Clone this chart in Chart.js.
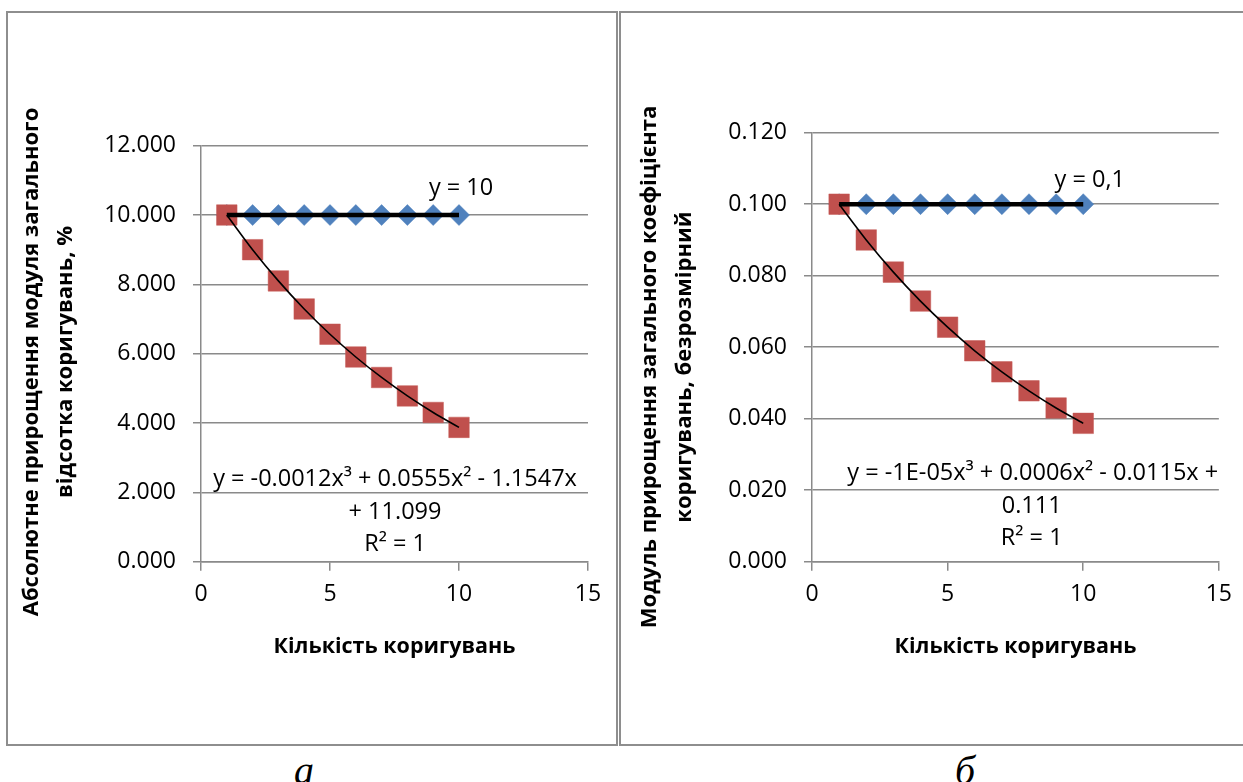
<!DOCTYPE html>
<html><head><meta charset="utf-8">
<script src="https://cdn.jsdelivr.net/npm/chart.js@4.4.0/dist/chart.umd.min.js"></script>
<style>
html,body{margin:0;padding:0;background:#fff}
body{width:1243px;height:782px;overflow:hidden;position:relative}
.frame{position:absolute;border:2px solid #8e8e8e;box-sizing:border-box}
#fa{left:6px;top:11px;width:612px;height:735px}
#fb{left:619px;top:11px;width:640px;height:735px}
canvas{position:absolute}
#ca{left:8px;top:13px}
#cb{left:621px;top:13px}
.cap{position:absolute;font-family:'Liberation Serif';font-style:italic;font-size:40px;line-height:40px;top:751px;transform:translateX(-50%);color:#000}
</style>
</head><body>
<div class="frame" id="fa"></div>
<div class="frame" id="fb"></div>
<canvas id="ca" width="608" height="730"></canvas>
<canvas id="cb" width="621" height="730"></canvas>
<div class="cap" style="left:304px">а</div>
<div class="cap" style="left:965px">б</div>
<script>
// ---- data ----
const xVals = [1, 2, 3, 4, 5, 6, 7, 8, 9, 10];
const blueA = [10, 10, 10, 10, 10, 10, 10, 10, 10, 10];
const redA = [10.000, 9.000, 8.100, 7.290, 6.561, 5.905, 5.314, 4.783, 4.305, 3.874];
const blueB = [0.1, 0.1, 0.1, 0.1, 0.1, 0.1, 0.1, 0.1, 0.1, 0.1];
const redB = [0.1000, 0.0900, 0.0810, 0.0729, 0.0656, 0.0590, 0.0531, 0.0478, 0.0430, 0.0387];
const xTicks = [0, 5, 10, 15];
const yTicksA = [0, 2, 4, 6, 8, 10, 12];
const yTicksB = [0, 0.02, 0.04, 0.06, 0.08, 0.10, 0.12];
const xTitle = 'Кількість коригувань';
const yTitleA = ['Абсолютне прирощення модуля загального', 'відсотка коригувань, %'];
const yTitleB = ['Модуль прирощення загального коефіцієнта', 'коригувань, безрозмірний'];
const trendLabelBlueA = 'y = 10';
const trendLabelRedA = ['y = -0.0012x³ + 0.0555x² - 1.1547x', '+ 11.099', 'R² = 1'];
const trendLabelBlueB = 'y = 0,1';
const trendLabelRedB = ['y = -1E-05x³ + 0.0006x² - 0.0115x +', '0.111', 'R² = 1'];

const GRID = '#8a8a8a';
const FONT = 'Open Sans';
const pts = (ys) => xVals.map((x, i) => ({x: x, y: ys[i]}));
const ends = (ys) => [{x: xVals[0], y: ys[0]}, {x: xVals[xVals.length - 1], y: ys[ys.length - 1]}];

const textPlugin = {
  id: 'texts',
  afterDatasetsDraw(chart, args, opts) {
    const ctx = chart.ctx;
    const xs = chart.scales.x, ys = chart.scales.y;
    ctx.save();
    ctx.fillStyle = '#000';
    ctx.textAlign = 'center';
    ctx.textBaseline = 'middle';
    ctx.font = '23.5px "' + FONT + '"';
    opts.labels.forEach(l => {
      ctx.fillText(l.text, xs.getPixelForValue(l.x), ys.getPixelForValue(l.y));
    });
    // rotated y title
    ctx.font = 'bold 22px "' + FONT + '"';
    opts.ytitle.lines.forEach((t, i) => {
      ctx.save();
      ctx.translate(opts.ytitle.xs[i], opts.ytitle.cy);
      ctx.rotate(-Math.PI / 2);
      ctx.fillText(t, 0, 0);
      ctx.restore();
    });
    ctx.restore();
  }
};

function makeChart(id, blue, red, yTicks, yMax, decimals, yWidth, pad, labels, ytitle) {
  return new Chart(document.getElementById(id), {
    type: 'scatter',
    data: {
      datasets: [
        {label: 'trendBlue', data: ends(blue), showLine: true, borderColor: '#000', borderWidth: 4.5,
         pointRadius: 0, fill: false, tension: 0},
        {label: 'trendRed', data: pts(red), showLine: true, borderColor: '#000', borderWidth: 1.6,
         pointRadius: 0, fill: false, cubicInterpolationMode: 'monotone'},
        {label: 'red', data: pts(red), pointStyle: 'rect', pointRadius: 14.5, backgroundColor: '#C0504D',
         borderColor: '#c45a57', borderWidth: 0.5, showLine: false},
        {label: 'blue', data: pts(blue), pointStyle: 'rectRot', pointRadius: 10.5, backgroundColor: '#4F81BD',
         borderColor: '#4F81BD', borderWidth: 0.5, showLine: false}
      ]
    },
    options: {
      responsive: false,
      animation: false,
      devicePixelRatio: 1,
      layout: {padding: pad},
      plugins: {legend: {display: false}, tooltip: {enabled: false}, texts: {labels: labels, ytitle: ytitle}},
      scales: {
        x: {
          type: 'linear', position: 'bottom', min: 0, max: 15,
          afterBuildTicks: s => { s.ticks = xTicks.map(v => ({value: v})); },
          ticks: {font: {family: FONT, size: 23}, color: '#000', padding: 10, maxRotation: 0, autoSkip: false},
          grid: {drawOnChartArea: false, drawTicks: true, tickLength: 9, color: GRID, lineWidth: 1.5},
          border: {display: true, color: GRID, width: 1.5},
          title: {display: true, text: xTitle, color: '#000', font: {family: FONT, size: 21.5, weight: 'bold'},
                  padding: {top: 0, bottom: 2}},
          afterFit: s => { s.height = 100; }
        },
        y: {
          type: 'linear', position: 'left', min: 0, max: yMax,
          afterBuildTicks: s => { s.ticks = yTicks.map(v => ({value: v})); },
          ticks: {font: {family: FONT, size: 23}, color: '#000', padding: 17, autoSkip: false,
                  callback: v => Number(v).toFixed(decimals)},
          grid: {drawOnChartArea: true, drawTicks: true, tickLength: 8, color: GRID, lineWidth: 1.5},
          border: {display: true, color: GRID, width: 1.5},
          afterFit: s => { s.width = yWidth; }
        }
      }
    },
    plugins: [textPlugin]
  });
}

makeChart('ca', blueA, redA, yTicksA, 12, 3, 193,
  {left: 0, top: 132.7, right: 28, bottom: 81.3},
  [
    {text: trendLabelBlueA, x: 10.08, y: 10.78},
    {text: trendLabelRedA[0], x: 7.52, y: 2.385},
    {text: trendLabelRedA[1], x: 7.52, y: 1.43},
    {text: trendLabelRedA[2], x: 7.52, y: 0.51}
  ],
  {lines: yTitleA, xs: [24, 58], cy: 349});

makeChart('cb', blueB, redB, yTicksB, 0.12, 3, 191,
  {left: 0, top: 119.7, right: 17, bottom: 81.3},
  [
    {text: trendLabelBlueB, x: 10.24, y: 0.1068},
    {text: trendLabelRedB[0], x: 8.14, y: 0.0248},
    {text: trendLabelRedB[1], x: 8.10, y: 0.0156},
    {text: trendLabelRedB[2], x: 8.10, y: 0.0066}
  ],
  {lines: yTitleB, xs: [29, 64], cy: 354});
</script>
</body></html>
